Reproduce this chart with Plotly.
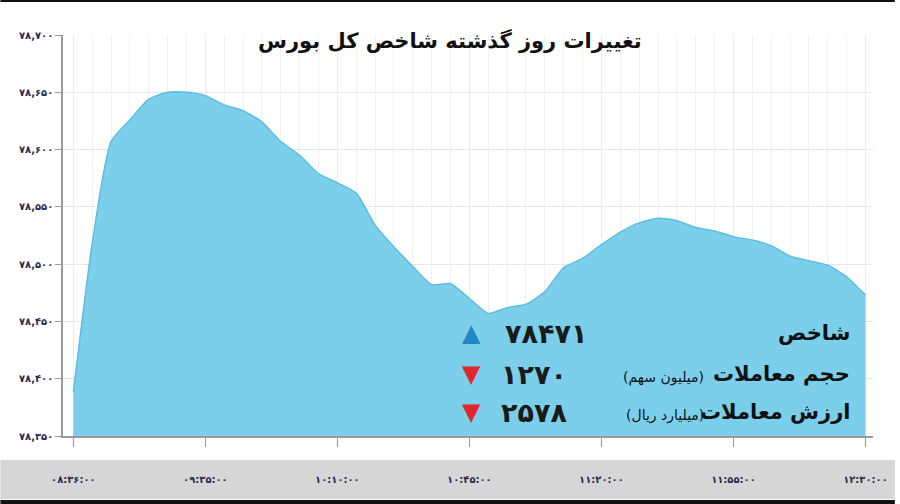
import plotly.graph_objects as go

# index level, one point every 5 minutes
index_values = [78388, 78518, 78607, 78626, 78644, 78650, 78650, 78647, 78639, 78634,
                78624, 78607, 78595, 78579, 78571, 78562, 78534, 78515, 78498, 78482,
                78483, 78470, 78457, 78462, 78465, 78476, 78497, 78505, 78517, 78528,
                78536, 78540, 78538, 78532, 78529, 78524, 78521, 78516, 78507, 78503,
                78499, 78489, 78473]
time_labels = ["08:36:00", "09:35:00", "10:10:00", "10:45:00", "11:20:00", "11:55:00", "12:30:00"]
y_ticks = [78350, 78400, 78450, 78500, 78550, 78600, 78650, 78700]

title = "تغییرات روز گذشته شاخص کل بورس"
stat_names = ["شاخص", "حجم معاملات", "ارزش معاملات"]
stat_units = ["", "(میلیون سهم)", "(میلیارد ریال)"]
stat_values = [78471, 1270, 2578]
stat_up = [True, False, False]

FA = str.maketrans("0123456789", "۰۱۲۳۴۵۶۷۸۹")


def fa(s):
    return str(s).translate(FA)


# plot area in pixels (used to place the text block)
L, R, T, B = 63, 878, 35, 436


def px(x):
    return (x - L) / (R - L)


def py(y):
    return (B - y) / (B - T)


xs = list(range(len(index_values)))
tick_pos = list(range(0, len(index_values), 7))

fig = go.Figure()
fig.add_trace(go.Scatter(x=xs, y=index_values,
                         mode="lines",
                         line=dict(color="#5cbde0", width=1.5, shape="spline", smoothing=0.6),
                         fill="tozeroy",
                         fillcolor="#7bcfeb",
                         hoverinfo="skip",
                         showlegend=False))

font_fa = "DejaVu Sans"

fig.update_layout(
    width=900, height=504,
    margin=dict(l=L, r=900 - R, t=T, b=504 - B),
    paper_bgcolor="white", plot_bgcolor="white",
    xaxis=dict(range=[-0.55, 42.4],
               tickvals=tick_pos,
               ticktext=[fa(t) for t in time_labels],
               ticks="outside", ticklen=9, tickcolor="#9a9a9a",
               ticklabelstandoff=24,
               tickfont=dict(family=font_fa, size=10, color="#2b2d4f", weight="bold"),
               showline=True, linecolor="#9a9a9a", linewidth=1.5,
               showgrid=True, gridcolor="#ececec",
               minor=dict(dtick=1, tick0=0, showgrid=True, gridcolor="#f1f1f1"),
               zeroline=False, fixedrange=True),
    yaxis=dict(range=[78350, 78700],
               tickvals=y_ticks,
               ticktext=[fa(f"{v:,}") for v in y_ticks],
               ticks="outside", ticklen=6, tickcolor="#9a9a9a",
               tickfont=dict(family=font_fa, size=10, color="#2b2d4f", weight="bold"),
               showline=True, linecolor="#9a9a9a", linewidth=1.5,
               showgrid=True, gridcolor="#e6e6e6",
               zeroline=False, fixedrange=True),
)

# grey band behind the time labels and frame lines
fig.add_shape(type="rect", xref="paper", yref="paper",
              x0=px(0), x1=px(900), y0=py(499), y1=py(460),
              fillcolor="#d6d6d6", line=dict(width=0), layer="below")
fig.add_shape(type="rect", xref="paper", yref="paper",
              x0=px(0), x1=px(900), y0=py(504), y1=py(500),
              fillcolor="#111111", line=dict(width=0))
fig.add_shape(type="rect", xref="paper", yref="paper",
              x0=px(0), x1=px(900), y0=py(2), y1=py(0),
              fillcolor="#111111", line=dict(width=0))

fig.add_annotation(text=title, xref="paper", yref="paper",
                   x=px(452), y=py(41), yanchor="middle", showarrow=False,
                   font=dict(family=font_fa, size=21, color="#111111", weight="bold"))

rows_y = [333, 374, 412]
for name, unit, val, up, yy in zip(stat_names, stat_units, stat_values, stat_up, rows_y):
    fig.add_annotation(text=name, xref="paper", yref="paper",
                       x=px(857), y=py(yy), xanchor="right", yanchor="middle", showarrow=False,
                       font=dict(family=font_fa, size=21, color="#111111", weight="bold"))
    if unit:
        fig.add_annotation(text=unit, xref="paper", yref="paper",
                           x=px(710), y=py(yy + 3), xanchor="right", yanchor="middle",
                           showarrow=False,
                           font=dict(family=font_fa, size=14, color="#111111"))
    fig.add_annotation(text=fa(val), xref="paper", yref="paper",
                       x=px(592 if up else 572), y=py(yy), xanchor="right", yanchor="middle",
                       showarrow=False,
                       font=dict(family=font_fa, size=27, color="#1a1a1a", weight="bold"))
    fig.add_annotation(text="▲" if up else "▼", xref="paper", yref="paper",
                       x=px(474), y=py(yy), yanchor="middle", showarrow=False,
                       font=dict(family=font_fa, size=24, color="#1f86c8" if up else "#e3262b"))

fig.write_html("out.html", config={"displayModeBar": False},
               post_script="document.body.style.margin='0';")
